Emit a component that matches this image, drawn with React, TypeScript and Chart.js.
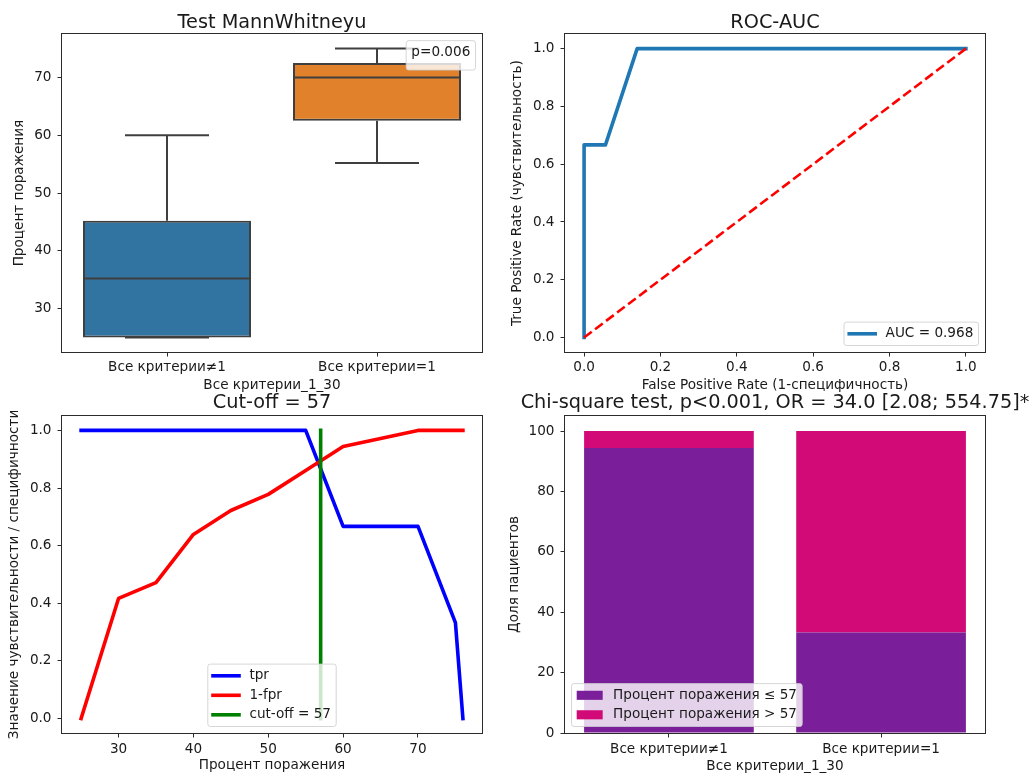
import React, { useEffect, useRef } from 'react';
import { Chart, registerables } from 'chart.js';

Chart.register(...registerables);

const FONT = "'DejaVu Sans'";
const TEXT = '#1a1a1a';
const SPINE = '#2b2b2b';
const TICK_SIZE = 13.6;
const TITLE_SIZE = 19.3;

// ---------- Panel 1: Mann-Whitney box plot ----------
const boxTitle = 'Test MannWhitneyu';
const boxCategories = ['Все критерии≠1', 'Все критерии=1'];
const boxWhiskerLow = [25, 55.2];
const boxQ1 = [25, 62.5];
const boxMedian = [35.2, 70];
const boxQ3 = [45.2, 72.5];
const boxWhiskerHigh = [60, 75];
const boxColors = ['#3274a1', '#e1812c'];
const boxEdge = '#3f3f3f';
const boxYTicks = [30, 40, 50, 60, 70];
const boxXTicks = [0, 1];
const boxYRange = [22.5, 77.5];
const boxXRange = [-0.5, 1.5];
const boxYLabel = 'Процент поражения';
const boxXLabel = 'Все критерии_1_30';
const boxLegendText = 'p=0.006';

// ---------- Panel 2: ROC curve ----------
const rocTitle = 'ROC-AUC';
const rocFpr = [0, 0, 0.056, 0.139, 1];
const rocTpr = [0, 0.667, 0.667, 1, 1];
const chanceX = [0, 1];
const chanceY = [0, 1];
const unitTicks = [0, 0.2, 0.4, 0.6, 0.8, 1.0];
const unitRange = [-0.05, 1.05];
const rocXLabel = 'False Positive Rate (1-специфичность)';
const rocYLabel = 'True Positive Rate (чувствительность)';
const rocLegendText = 'AUC = 0.968';
const rocColor = '#1f77b4';

// ---------- Panel 3: cut-off ----------
const cutTitle = 'Cut-off = 57';
const tprThresholds = [25, 55, 60, 70, 75, 76];
const tprValues = [1, 1, 0.667, 0.667, 0.333, 0];
const specThresholds = [25, 30, 35, 40, 45, 50, 55, 60, 65, 70, 76];
const specValues = [0, 0.417, 0.472, 0.639, 0.722, 0.778, 0.861, 0.944, 0.972, 1, 1];
const cutoffValue = 57;
const cutoffSpan = [0, 1];
const cutXTicks = [30, 40, 50, 60, 70];
const cutXRange = [22.45, 78.55];
const cutXLabel = 'Процент поражения';
const cutYLabel = 'Значение чувствительности / специфичности';
const cutLegendLabels = ['tpr', '1-fpr', 'cut-off = 57'];
const cutColors = ['#0000ff', '#ff0000', '#008000'];

// ---------- Panel 4: chi-square stacked bars ----------
const chiTitle = 'Chi-square test, p<0.001, OR = 34.0 [2.08; 554.75]*';
const chiCategories = ['Все критерии≠1', 'Все критерии=1'];
const shareLow = [94.4, 33.3];
const shareHigh = [5.6, 66.7];
const chiSeries = ['Процент поражения ≤ 57', 'Процент поражения > 57'];
const chiColors = ['#7b1e99', '#d10a78'];
const chiYTicks = [0, 20, 40, 60, 80, 100];
const chiXTicks = [0, 1];
const chiYRange = [0, 105];
const chiXRange = [-0.49, 1.49];
const chiYLabel = 'Доля пациентов';
const chiXLabel = 'Все критерии_1_30';

// ---------- helpers ----------
type Rect = { left: number; top: number; w: number; h: number };
type LegendItem = { label: string; kind: 'line' | 'patch' | 'none'; color?: string; width?: number };

function axis(o: {
  position: 'left' | 'bottom';
  range: number[];
  ticks: number[];
  fmt: (v: number) => string;
  size: number;
  label: string;
  labelPad: number;
  tickPad: number;
  stacked?: boolean;
}) {
  const isY = o.position === 'left';
  return {
    type: 'linear',
    position: o.position,
    min: o.range[0],
    max: o.range[1],
    offset: false,
    beginAtZero: false,
    stacked: !!o.stacked,
    grid: {
      display: true,
      drawOnChartArea: false,
      drawTicks: true,
      tickLength: 4.5,
      color: SPINE,
      lineWidth: 1,
      offset: false,
    },
    border: { display: false },
    ticks: {
      autoSkip: false,
      maxRotation: 0,
      minRotation: 0,
      padding: o.tickPad,
      color: TEXT,
      font: { family: FONT, size: TICK_SIZE },
      callback: (v: any) => o.fmt(Number(v)),
    },
    title: {
      display: true,
      text: o.label,
      color: TEXT,
      font: { family: FONT, size: TICK_SIZE },
      padding: isY ? { top: o.labelPad, bottom: 0 } : { top: 0, bottom: o.labelPad },
    },
    afterBuildTicks: (s: any) => {
      s.ticks = o.ticks.map((value) => ({ value }));
    },
    afterFit: (s: any) => {
      if (isY) s.width = o.size;
      else s.height = o.size;
    },
  };
}

const framePlugin = {
  id: 'mplFrame',
  afterDatasetsDraw(chart: any) {
    const { ctx, chartArea } = chart;
    ctx.save();
    ctx.strokeStyle = SPINE;
    ctx.lineWidth = 1;
    ctx.strokeRect(
      Math.round(chartArea.left) - 0.5,
      Math.round(chartArea.top) - 0.5,
      Math.round(chartArea.right - chartArea.left) + 1,
      Math.round(chartArea.bottom - chartArea.top) + 1
    );
    ctx.restore();
  },
};

function mplLegend(items: LegendItem[], loc: string, extraBottom = 0) {
  return {
    id: 'mplLegend',
    afterDraw(chart: any) {
      const { ctx, chartArea: ca } = chart;
      const fs = 13;
      ctx.save();
      ctx.font = `${TICK_SIZE}px ${FONT}`;
      const tw = Math.max(...items.map((it) => ctx.measureText(it.label).width));
      const withHandle = items.some((it) => it.kind !== 'none');
      const pad = 0.4 * fs;
      const hl = withHandle ? 2 * fs : 0;
      const htp = withHandle ? 0.8 * fs : 0;
      const row = fs;
      const sp = 0.5 * fs;
      const gap = 0.5 * fs;
      const w = 2 * pad + hl + htp + tw;
      const h = 2 * pad + items.length * row + (items.length - 1) * sp + extraBottom;
      let x = ca.left + gap;
      let y = ca.top + gap;
      if (loc.includes('right')) x = ca.right - gap - w;
      if (loc.includes('center')) x = (ca.left + ca.right) / 2 - w / 2;
      if (loc.includes('lower')) y = ca.bottom - gap - h;
      ctx.beginPath();
      ctx.roundRect(x, y, w, h, 2.6);
      ctx.fillStyle = 'rgba(255,255,255,0.8)';
      ctx.fill();
      ctx.strokeStyle = 'rgba(204,204,204,0.8)';
      ctx.lineWidth = 1;
      ctx.stroke();
      items.forEach((it, i) => {
        const cy = y + pad + i * (row + sp) + row / 2;
        const hx = x + pad;
        if (it.kind === 'line') {
          ctx.beginPath();
          ctx.moveTo(hx, cy);
          ctx.lineTo(hx + hl, cy);
          ctx.strokeStyle = it.color || '#000';
          ctx.lineWidth = it.width || 2;
          ctx.lineCap = 'square';
          ctx.stroke();
        } else if (it.kind === 'patch') {
          ctx.fillStyle = it.color || '#000';
          ctx.fillRect(hx, cy - 0.35 * fs, hl, 0.7 * fs);
        }
        ctx.fillStyle = TEXT;
        ctx.textBaseline = 'middle';
        ctx.textAlign = 'left';
        ctx.fillText(it.label, hx + hl + htp, cy);
      });
      ctx.restore();
    },
  };
}

function titleOpts(text: string, pad: { top: number; bottom: number }, fullSize: boolean) {
  return {
    display: true,
    text,
    color: TEXT,
    fullSize,
    font: { family: FONT, size: TITLE_SIZE, weight: 'normal' },
    padding: pad,
  };
}

const baseOpts = {
  responsive: false,
  animation: false,
  events: [] as string[],
};

const fmt1 = (v: number) => v.toFixed(1);
const fmtInt = (v: number) => String(Math.round(v));

// ---------- chart configs ----------
function boxConfig() {
  const capHalf = 0.2;
  const boxHalf = 0.4;
  const seg = (pts: { x: number; y: number }[], order: number) => ({
    type: 'line',
    data: pts,
    borderColor: boxEdge,
    borderWidth: 2,
    pointRadius: 0,
    fill: false,
    order,
    borderCapStyle: 'butt',
  });
  const datasets: any[] = [];
  boxCategories.forEach((_, i) => {
    datasets.push(seg([{ x: i, y: boxQ3[i] }, { x: i, y: boxWhiskerHigh[i] }], 2));
    datasets.push(seg([{ x: i, y: boxWhiskerLow[i] }, { x: i, y: boxQ1[i] }], 2));
    datasets.push(seg([{ x: i - capHalf, y: boxWhiskerHigh[i] }, { x: i + capHalf, y: boxWhiskerHigh[i] }], 2));
    datasets.push(seg([{ x: i - capHalf, y: boxWhiskerLow[i] }, { x: i + capHalf, y: boxWhiskerLow[i] }], 2));
    datasets.push(seg([{ x: i - boxHalf, y: boxMedian[i] }, { x: i + boxHalf, y: boxMedian[i] }], 0));
  });
  datasets.push({
    type: 'bar',
    data: boxCategories.map((_, i) => ({ x: i, y: [boxQ1[i], boxQ3[i]] })),
    backgroundColor: boxColors,
    borderColor: boxEdge,
    borderWidth: 2,
    borderSkipped: false,
    barPercentage: 1,
    categoryPercentage: 0.8,
    order: 1,
  });
  return {
    type: 'bar',
    data: { datasets },
    options: {
      ...baseOpts,
      layout: { padding: { top: 11, right: 18, bottom: 4, left: 0 } },
      plugins: {
        legend: { display: false },
        tooltip: { enabled: false },
        title: titleOpts(boxTitle, { top: 0, bottom: 0 }, false),
      },
      scales: {
        x: axis({ position: 'bottom', range: boxXRange, ticks: boxXTicks, fmt: (v) => boxCategories[Math.round(v)], size: 44, label: boxXLabel, labelPad: 2, tickPad: 3 }),
        y: axis({ position: 'left', range: boxYRange, ticks: boxYTicks, fmt: fmtInt, size: 62, label: boxYLabel, labelPad: 11, tickPad: 6 }),
      },
    },
    plugins: [framePlugin, mplLegend([{ label: boxLegendText, kind: 'none' }], 'upper right', 6)],
  };
}

function rocConfig() {
  return {
    type: 'line',
    data: {
      datasets: [
        {
          data: chanceX.map((x, i) => ({ x, y: chanceY[i] })),
          borderColor: '#ff0000',
          borderWidth: 2.6,
          borderDash: [9.6, 4.2],
          pointRadius: 0,
          fill: false,
          order: 0,
        },
        {
          label: rocLegendText,
          data: rocFpr.map((x, i) => ({ x, y: rocTpr[i] })),
          borderColor: rocColor,
          borderWidth: 3.6,
          borderJoinStyle: 'round',
          borderCapStyle: 'square',
          pointRadius: 0,
          fill: false,
          order: 1,
        },
      ],
    },
    options: {
      ...baseOpts,
      layout: { padding: { top: 11, right: 45, bottom: 4, left: 0 } },
      plugins: {
        legend: { display: false },
        tooltip: { enabled: false },
        title: titleOpts(rocTitle, { top: 0, bottom: 0 }, false),
      },
      scales: {
        x: axis({ position: 'bottom', range: unitRange, ticks: unitTicks, fmt: fmt1, size: 44, label: rocXLabel, labelPad: 2, tickPad: 3 }),
        y: axis({ position: 'left', range: unitRange, ticks: unitTicks, fmt: fmt1, size: 65, label: rocYLabel, labelPad: 9.4, tickPad: 6 }),
      },
    },
    plugins: [framePlugin, mplLegend([{ label: rocLegendText, kind: 'line', color: rocColor, width: 3.6 }], 'lower right')],
  };
}

function cutConfig() {
  const line = (data: any[], color: string, order: number) => ({
    data,
    borderColor: color,
    borderWidth: 3.6,
    borderJoinStyle: 'round',
    borderCapStyle: 'square',
    pointRadius: 0,
    fill: false,
    order,
  });
  return {
    type: 'line',
    data: {
      datasets: [
        line(tprThresholds.map((x, i) => ({ x, y: tprValues[i] })), cutColors[0], 2),
        line(specThresholds.map((x, i) => ({ x, y: specValues[i] })), cutColors[1], 1),
        line(cutoffSpan.map((y) => ({ x: cutoffValue, y })), cutColors[2], 0),
      ],
    },
    options: {
      ...baseOpts,
      layout: { padding: { top: 6.9, right: 18, bottom: 0, left: 0 } },
      plugins: {
        legend: { display: false },
        tooltip: { enabled: false },
        title: titleOpts(cutTitle, { top: 0, bottom: 0.94 }, false),
      },
      scales: {
        x: axis({ position: 'bottom', range: cutXRange, ticks: cutXTicks, fmt: fmtInt, size: 47, label: cutXLabel, labelPad: 6.2, tickPad: 3.5 }),
        y: axis({ position: 'left', range: unitRange, ticks: unitTicks, fmt: fmt1, size: 62, label: cutYLabel, labelPad: 6, tickPad: 6 }),
      },
    },
    plugins: [
      framePlugin,
      mplLegend(
        cutLegendLabels.map((label, i) => ({ label, kind: 'line' as const, color: cutColors[i], width: 3.6 })),
        'lower center'
      ),
    ],
  };
}

function chiConfig() {
  const bar = (label: string, values: number[], color: string) => ({
    label,
    data: chiCategories.map((_, i) => ({ x: i, y: values[i] })),
    backgroundColor: color,
    borderWidth: 0,
    barPercentage: 1,
    categoryPercentage: 0.8,
  });
  return {
    type: 'bar',
    data: {
      datasets: [bar(chiSeries[0], shareLow, chiColors[0]), bar(chiSeries[1], shareHigh, chiColors[1])],
    },
    options: {
      ...baseOpts,
      layout: { padding: { top: 6.9, right: 0, bottom: 0, left: 0 } },
      plugins: {
        legend: { display: false },
        tooltip: { enabled: false },
        title: titleOpts(chiTitle, { top: 0, bottom: 0.94 }, true),
      },
      scales: {
        x: axis({ position: 'bottom', range: chiXRange, ticks: chiXTicks, fmt: (v) => chiCategories[Math.round(v)], size: 47, label: chiXLabel, labelPad: 4.9, tickPad: 3.5, stacked: true }),
        y: axis({ position: 'left', range: chiYRange, ticks: chiYTicks, fmt: fmtInt, size: 65, label: chiYLabel, labelPad: 6, tickPad: 6, stacked: true }),
        yR: {
          type: 'linear',
          position: 'right',
          display: true,
          grid: { display: false },
          ticks: { display: false },
          border: { display: false },
          title: { display: false },
          afterFit: (s: any) => {
            s.width = 65;
          },
        },
      },
    },
    plugins: [
      framePlugin,
      mplLegend(
        chiSeries.map((label, i) => ({ label, kind: 'patch' as const, color: chiColors[i] })),
        'lower left'
      ),
    ],
  };
}

function Panel({ rect, make }: { rect: Rect; make: () => any }) {
  const ref = useRef<HTMLCanvasElement | null>(null);
  useEffect(() => {
    if (!ref.current) return;
    const chart = new Chart(ref.current, make() as any);
    return () => chart.destroy();
  }, [make]);
  return (
    <canvas
      ref={ref}
      width={rect.w}
      height={rect.h}
      style={{ position: 'absolute', left: rect.left, top: rect.top, width: rect.w, height: rect.h }}
    />
  );
}

const panels: { rect: Rect; make: () => any }[] = [
  { rect: { left: 0, top: 0, w: 500, h: 400 }, make: boxConfig },
  { rect: { left: 500, top: 0, w: 530, h: 400 }, make: rocConfig },
  { rect: { left: 0, top: 385, w: 500, h: 395 }, make: cutConfig },
  { rect: { left: 500, top: 385, w: 550, h: 395 }, make: chiConfig },
];

export default function App() {
  return (
    <div
      style={{
        position: 'absolute',
        left: 0,
        top: 0,
        width: 1030,
        height: 774,
        overflow: 'hidden',
        background: '#ffffff',
      }}
    >
      {panels.map((p, i) => (
        <Panel key={i} rect={p.rect} make={p.make} />
      ))}
    </div>
  );
}
